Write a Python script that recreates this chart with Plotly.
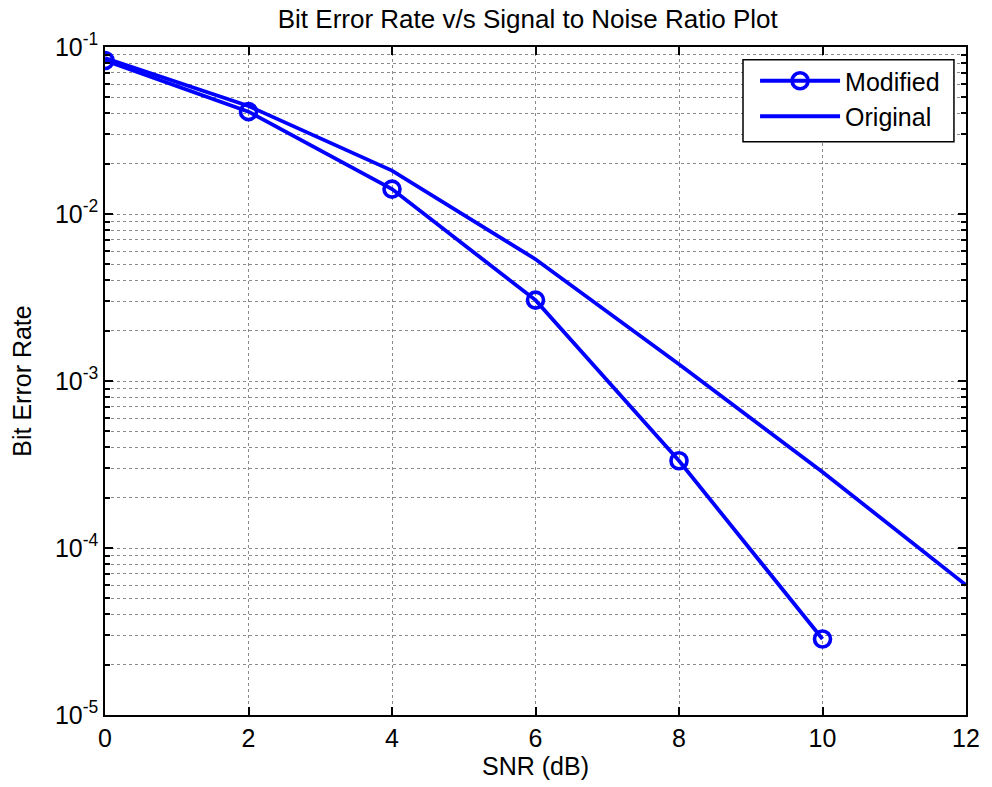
import plotly.graph_objects as go

snr_modified = [0, 2, 4, 6, 8, 10]
ber_modified = [0.083, 0.041, 0.0141, 0.00305, 3.33e-4, 2.85e-5]
snr_original = [0, 2, 4, 6, 8, 10, 12]
ber_original = [0.086, 0.0443, 0.0182, 0.00536, 0.00126, 2.85e-4, 6.0e-5]

x_ticks = [0, 2, 4, 6, 8, 10, 12]
y_ticks = [1e-5, 1e-4, 1e-3, 1e-2, 1e-1]
y_tick_text = ["10<sup>-5</sup>", "10<sup>-4</sup>", "10<sup>-3</sup>", "10<sup>-2</sup>", "10<sup>-1</sup>"]
y_minor = [m * 10.0 ** e for e in range(-5, -1) for m in range(2, 10)]

FONT = "Arial, Liberation Sans, sans-serif"
BLUE = "#0000FF"
FS = 25

fig = go.Figure()
fig.add_trace(go.Scatter(
    x=snr_modified, y=ber_modified, name="Modified", mode="lines+markers",
    line=dict(color=BLUE, width=3.8),
    marker=dict(symbol="circle-open", size=16, color=BLUE, line=dict(width=3.6, color=BLUE)),
))
fig.add_trace(go.Scatter(
    x=snr_original, y=ber_original, name="Original", mode="lines",
    line=dict(color=BLUE, width=3.8),
))

axis_common = dict(
    showline=True, linecolor="black", linewidth=1.5, mirror="ticks",
    ticks="inside", ticklen=8, tickcolor="black", tickwidth=1.5,
    showgrid=True, gridcolor="#8a8a8a", griddash="dot", gridwidth=1,
    zeroline=False,
    tickfont=dict(family=FONT, size=FS, color="black"),
)

fig.update_xaxes(
    range=[0, 12], tickvals=x_ticks, ticktext=[str(v) for v in x_ticks],
    title=dict(text="SNR (dB)", font=dict(family=FONT, size=FS, color="black"), standoff=6),
    **axis_common,
)
fig.update_yaxes(
    type="log", range=[-5, -1], tickvals=y_ticks, ticktext=y_tick_text,
    title=dict(text="Bit Error Rate", font=dict(family=FONT, size=FS, color="black"), standoff=16),
    minor=dict(tickvals=y_minor, ticks="inside", ticklen=5, tickcolor="black", tickwidth=1.5,
               showgrid=True, gridcolor="#8a8a8a", griddash="dot", gridwidth=1),
    **axis_common,
)

# legend frame (white box with black border, as in the reference)
fig.add_shape(type="rect", xref="paper", yref="paper",
              x0=0.741, x1=0.986, y0=0.858, y1=0.981,
              fillcolor="white", line=dict(color="black", width=1.5), layer="above")

fig.update_layout(
    width=992, height=787,
    margin=dict(l=105, r=18, t=47, b=72),
    paper_bgcolor="white", plot_bgcolor="white",
    font=dict(family=FONT, size=FS, color="black"),
    title=dict(text="Bit Error Rate v/s Signal to Noise Ratio Plot",
               font=dict(family=FONT, size=26, color="black"),
               x=0.491, xref="paper", xanchor="center",
               y=1 - 19 / 787, yref="container", yanchor="middle"),
    legend=dict(x=0.755, y=0.9835, xanchor="left", yanchor="top",
                bgcolor="rgba(0,0,0,0)", borderwidth=0,
                font=dict(family=FONT, size=FS, color="black"),
                itemwidth=80, tracegroupgap=0),
    showlegend=True,
)

fig.write_html("out.html")
